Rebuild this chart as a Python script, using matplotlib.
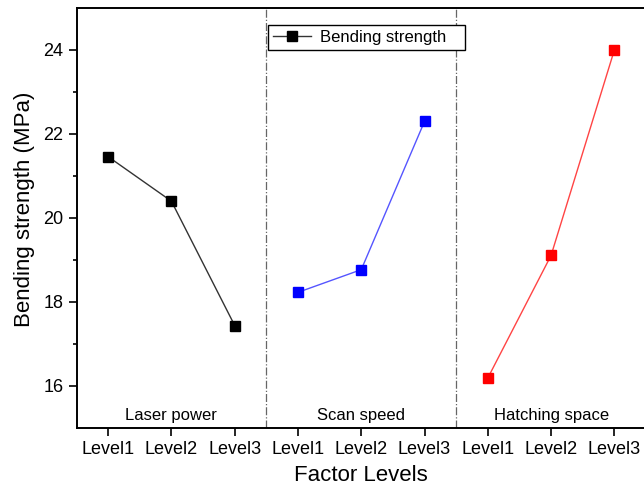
import matplotlib.pyplot as plt

plt.rcParams['font.family'] = ['Liberation Sans', 'DejaVu Sans']

factors = ['Laser power', 'Scan speed', 'Hatching space']
levels = ['Level1', 'Level2', 'Level3']
laser_power = [21.46, 20.40, 17.44]
scan_speed = [18.23, 18.77, 22.30]
hatching_space = [16.19, 19.11, 24.00]
colors = ['black', 'blue', 'red']
line_colors = ['#333333', '#5555ff', '#ff4444']

fig = plt.figure(figsize=(6.44, 4.87), dpi=100)
ax = fig.add_axes([76.5 / 644, 1 - 428 / 487, (646 - 76.5) / 644, (428 - 8) / 487])

series = [laser_power, scan_speed, hatching_space]
for i, vals in enumerate(series):
    xs = [3 * i + k + 1 for k in range(3)]
    ax.plot(xs, vals, color=line_colors[i], linewidth=1, marker='s', markersize=7,
            markerfacecolor=colors[i], markeredgecolor=colors[i],
            label='Bending strength   ' if i == 0 else None)
    ax.text(3 * i + 2, 15.12, factors[i], ha='center', va='bottom', fontsize=12)

for xd in [3.5, 6.5]:
    ax.axvline(xd, color='#666666', linestyle='-.', linewidth=0.9)

ax.set_xlim(0.5, 9.5)
ax.set_ylim(15, 25)
ax.set_xticks(range(1, 10))
ax.set_xticklabels(levels * 3, fontsize=13)
ax.set_yticks([16, 18, 20, 22, 24])
ax.set_yticks([17, 19, 21, 23], minor=True)
ax.tick_params(axis='y', labelsize=13)
ax.tick_params(which='major', direction='out', length=6, width=1.2)
ax.tick_params(which='minor', direction='out', length=3, width=1.2)
for s in ax.spines.values():
    s.set_linewidth(1.4)

ax.set_xlabel('Factor Levels', fontsize=16, labelpad=5)
ax.set_ylabel('Bending strength (MPa)', fontsize=16)
ax.yaxis.set_label_coords(-0.073, 0.52)

leg = ax.legend(loc='upper left', bbox_to_anchor=(0.3363, 0.9595), fontsize=12,
                fancybox=False, edgecolor='black', framealpha=1, borderaxespad=0,
                borderpad=0.3, handlelength=2.3, handletextpad=0.5)
leg.get_frame().set_linewidth(1)

fig.savefig('out.png', dpi=100)
